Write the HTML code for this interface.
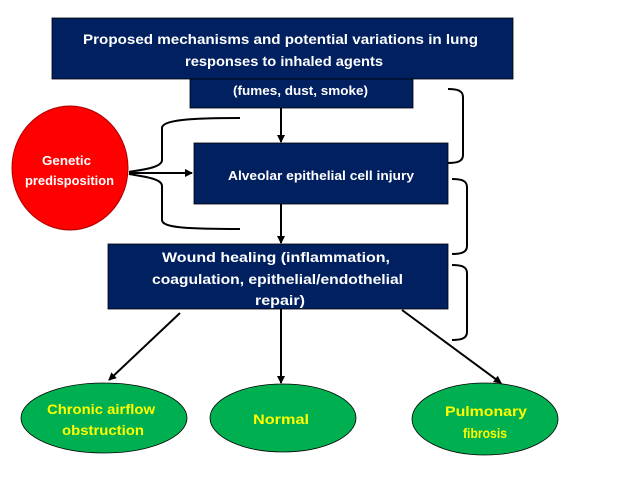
<!DOCTYPE html>
<html><head><style>body{margin:0;background:#fff}svg{display:block}text{font-family:"Liberation Sans",sans-serif;font-weight:bold}</style></head>
<body><svg width="638" height="479" viewBox="0 0 638 479">
<defs><marker id="a" markerWidth="8" markerHeight="8" refX="7" refY="4" orient="auto" markerUnits="userSpaceOnUse"><path d="M0,0L8,4L0,8z" fill="#000"/></marker></defs>
<g fill="#002060" stroke="#000" stroke-width="0.8">
<rect x="52" y="18" width="461" height="61"/>
<rect x="190" y="79" width="223" height="29"/>
<rect x="194" y="143" width="254" height="61"/>
<rect x="108" y="244" width="340" height="65"/>
</g>
<g fill="#fff" font-size="14" lengthAdjust="spacingAndGlyphs">
<text x="83" y="44" textLength="395" lengthAdjust="spacingAndGlyphs">Proposed mechanisms and potential variations in lung</text>
<text x="185" y="66" textLength="198" lengthAdjust="spacingAndGlyphs">responses to inhaled agents</text>
<text x="233" y="95" font-size="13" textLength="135" lengthAdjust="spacingAndGlyphs">(fumes, dust, smoke)</text>
<text x="228" y="180" font-size="13" textLength="186" lengthAdjust="spacingAndGlyphs">Alveolar epithelial cell injury</text>
<text x="162" y="262" textLength="228" lengthAdjust="spacingAndGlyphs">Wound healing (inflammation,</text>
<text x="152" y="284" textLength="251" lengthAdjust="spacingAndGlyphs">coagulation, epithelial/endothelial</text>
<text x="255" y="305" textLength="50" lengthAdjust="spacingAndGlyphs">repair)</text>
</g>
<ellipse cx="70" cy="168" rx="58" ry="62" fill="#f00" stroke="#a00"/>
<text x="42" y="165" fill="#fff" font-size="13" textLength="49" lengthAdjust="spacingAndGlyphs">Genetic</text>
<text x="25" y="185" fill="#fff" font-size="13" textLength="89" lengthAdjust="spacingAndGlyphs">predisposition</text>
<g stroke="#000" stroke-width="2" fill="none">
<path d="M240,118 C190,118 162,120 162,128 L162,160 C162,168 140,170 129,172"/>
<path d="M129,174 C140,176 162,178 162,186 L162,220 C162,228 190,229 240,229"/>
<path d="M129,173 L192,173" marker-end="url(#a)"/>
<path d="M281,108 L281,142" marker-end="url(#a)"/>
<path d="M281,204 L281,243" marker-end="url(#a)"/>
<path d="M180,313 L109,380" marker-end="url(#a)"/>
<path d="M281,309 L281,383" marker-end="url(#a)"/>
<path d="M402,310 L501,383" marker-end="url(#a)"/>
<path d="M448,89 C458,89 463,91 463,97 L463,155 C463,161 458,163 448,163"/>
<path d="M452,179 C462,179 467,181 467,187 L467,246 C467,252 462,254 452,254"/>
<path d="M452,265 C462,265 467,267 467,273 L467,332 C467,338 462,340 452,340"/>
</g>
<g fill="#00b050" stroke="#000" stroke-width="0.8">
<ellipse cx="104" cy="418" rx="83" ry="35"/>
<ellipse cx="283" cy="418" rx="73" ry="34"/>
<ellipse cx="485" cy="419" rx="73" ry="36"/>
</g>
<g fill="#ff0" font-size="14">
<text x="47" y="414" textLength="108" lengthAdjust="spacingAndGlyphs">Chronic airflow</text>
<text x="62" y="435" textLength="82" lengthAdjust="spacingAndGlyphs">obstruction</text>
<text x="253" y="424" textLength="56" lengthAdjust="spacingAndGlyphs">Normal</text>
<text x="445" y="416" textLength="82" lengthAdjust="spacingAndGlyphs">Pulmonary</text>
<text x="463" y="438" textLength="44" lengthAdjust="spacingAndGlyphs">fibrosis</text>
</g>
</svg></body></html>
